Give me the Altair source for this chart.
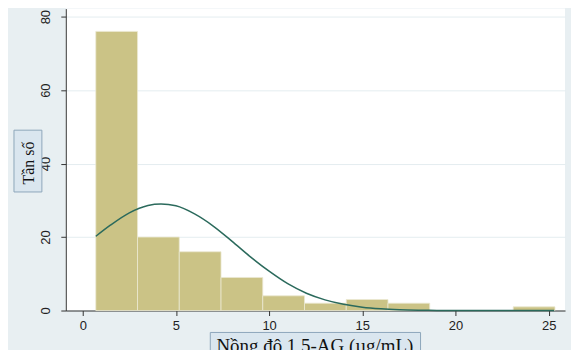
import altair as alt
import pandas as pd

# Histogram bins (edges) and frequencies
bin_start = [0.70, 2.94, 5.18, 7.42, 9.66, 11.90, 14.14, 16.38, 23.10]
bin_end   = [2.94, 5.18, 7.42, 9.66, 11.90, 14.14, 16.38, 18.62, 25.34]
counts    = [76, 20, 16, 9, 4, 2, 3, 2, 1]

# Normal density overlay (in frequency units)
curve_x = [0.7, 1.5, 2.5, 3.5, 4.2, 5, 6, 7, 8, 9, 10, 11, 12, 13, 14, 15, 16, 17, 18, 19, 20, 22, 25.3]
curve_y = [20.2, 23.3, 26.6, 28.6, 29.0, 28.5, 26.3, 23.0, 18.9, 14.6, 10.7, 7.3, 4.7, 2.9, 1.7, 0.9, 0.46, 0.22, 0.1, 0.04, 0.01, 0, 0]

x_ticks = [0, 5, 10, 15, 20, 25]
y_ticks = [0, 20, 40, 60, 80]
y_title = "Tần số"
x_title = "Nồng độ 1,5-AG (µg/mL)"

bars_df = pd.DataFrame({"x0": bin_start, "x1": bin_end, "n": counts})
curve_df = pd.DataFrame({"x": curve_x, "y": curve_y})

W, H = 501, 303
xs = alt.Scale(domain=[-0.91, 25.88], nice=False, zero=False)
ys = alt.Scale(domain=[0, 82.2], nice=False)

x_axis = alt.Axis(values=x_ticks, title=None, grid=False, tickSize=5, labelPadding=4,
                  domainColor="#333333", tickColor="#333333", labelColor="#222222",
                  labelFont="Liberation Sans", labelFontSize=13)
y_axis = alt.Axis(values=y_ticks, title=None, grid=True, gridColor="#e4edf0", gridWidth=1,
                  tickSize=5, labelAngle=270, labelAlign="center", labelBaseline="bottom",
                  labelPadding=8, domainColor="#333333", tickColor="#333333",
                  labelColor="#222222", labelFont="Liberation Sans", labelFontSize=13)

bars = alt.Chart(bars_df).mark_rect(fill="#cbc386", stroke="#ebe8d2", strokeWidth=0.8).encode(
    x=alt.X("x0:Q", scale=xs, axis=x_axis),
    x2="x1:Q",
    y=alt.Y("n:Q", scale=ys, axis=y_axis),
    y2=alt.datum(0),
)

line = alt.Chart(curve_df).mark_line(color="#2b6a5c", strokeWidth=1.5, interpolate="monotone").encode(
    x=alt.X("x:Q", scale=xs),
    y=alt.Y("y:Q", scale=ys),
)

one = pd.DataFrame({"t": [y_title]})
ybox = alt.Chart(one).mark_rect(fill="#dae6ef", stroke="#8ea7bb", strokeWidth=1).encode(
    x=alt.value(-52), x2=alt.value(-24), y=alt.value(122), y2=alt.value(184))
ytext = alt.Chart(one).mark_text(angle=270, font="Liberation Serif", fontSize=16,
                                 color="#111111", baseline="middle", align="center").encode(
    x=alt.value(-37), y=alt.value(155), text="t:N")

two = pd.DataFrame({"t": [x_title]})
xbox = alt.Chart(two).mark_rect(fill="#dae6ef", stroke="#8ea7bb", strokeWidth=1).encode(
    x=alt.value(145), x2=alt.value(356), y=alt.value(325), y2=alt.value(360))
xtext = alt.Chart(two).mark_text(font="Liberation Serif", fontSize=19, color="#111111",
                                 baseline="alphabetic", align="center").encode(
    x=alt.value(250), y=alt.value(345), text="t:N")

chart = alt.layer(bars, line, ybox, ytext, xbox, xtext).properties(
    width=W, height=H,
    autosize=alt.AutoSizeParams(type="none"),
    padding={"left": 58, "top": 0, "right": 6, "bottom": 39},
    background="#e8eff2",
).configure_view(fill="#ffffff", stroke=None)

chart.save("out.html", embed_options={"renderer": "svg", "actions": False})
